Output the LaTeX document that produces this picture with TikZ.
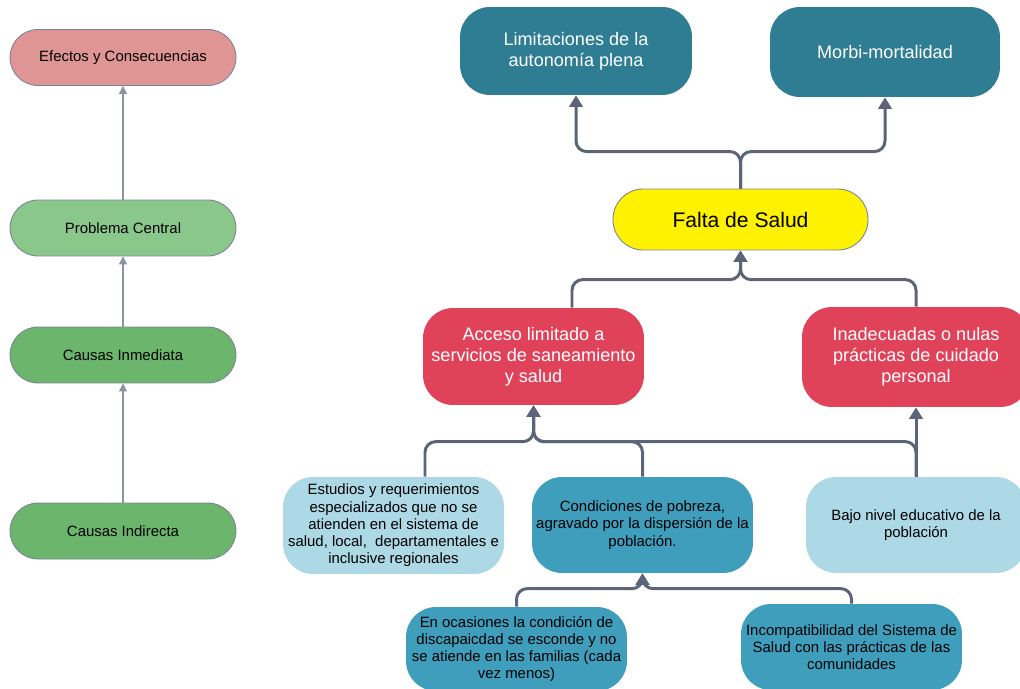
\documentclass[tikz,border=0pt]{standalone}
\usepackage{fontspec}
\setmainfont{Liberation Sans}
\usetikzlibrary{arrows.meta, positioning}

\definecolor{efecto}{HTML}{E09595}
\definecolor{central}{HTML}{89C78B}
\definecolor{causa}{HTML}{6BB56D}
\definecolor{petroleo}{HTML}{2F7D93}
\definecolor{carmin}{HTML}{E0425A}
\definecolor{celeste}{HTML}{ADD8E6}
\definecolor{azul}{HTML}{3E9EBC}
\definecolor{linea}{HTML}{5B6478}

\begin{document}
\begin{tikzpicture}[x=0.02cm, y=-0.02cm,
        pill/.style={draw=linea!80, line width=0.5pt, rounded corners=0.56cm,
            minimum width=4.52cm, minimum height=1.12cm, font=\fontsize{8.5}{10}\selectfont},
        caja/.style={rounded corners=0.6cm, align=center, inner sep=2pt},
        grande/.style={caja, text=white, font=\fontsize{10.3}{11.9}\selectfont},
        chica/.style={caja, minimum width=4.42cm, font=\fontsize{8.5}{9.8}\selectfont},
        conn/.style={draw=linea, line width=1.7pt, rounded corners=6pt,
            -{Triangle[width=7.5pt,length=6.5pt]}},
        guia/.style={draw=linea!70, line width=0.6pt, -{Triangle[width=4.5pt,length=4.5pt]}}]

        \useasboundingbox (0,0) rectangle (1020,689);

        % Left column (legend)
        \foreach \n/\yy/\c/\t in {efe/57.5/efecto/Efectos y Consecuencias,
                pro/228/central/Problema Central,
                inm/355/causa/Causas Inmediata,
                ind/531/causa/Causas Indirecta} {
            \node[pill, fill=\c] (\n) at (123,\yy) {\t};
        }
        \draw[guia] (ind.north) -- (inm.south);
        \draw[guia] (inm.north) -- (pro.south);
        \draw[guia] (pro.north) -- (efe.south);

        % Effects
        \node[grande, fill=petroleo, minimum width=4.64cm, minimum height=1.76cm] (limit) at (576,51)
            {Limitaciones de la\\autonomía plena};
        \node[grande, fill=petroleo, minimum width=4.6cm, minimum height=1.8cm] (morbi) at (885,52)
            {Morbi-mortalidad};

        % Central problem
        \node[draw=linea!80, line width=0.5pt, fill=yellow, rounded corners=0.6cm,
            minimum width=5.1cm, minimum height=1.22cm, font=\fontsize{12}{14}\selectfont] (falta) at (740.5,219.5)
            {Falta de Salud};

        % Immediate causes
        \node[grande, fill=carmin, minimum width=4.42cm, minimum height=1.94cm] (acceso) at (533.5,356.5)
            {Acceso limitado a\\servicios de saneamiento\\y salud};
        \node[grande, fill=carmin, minimum width=4.56cm, minimum height=2cm] (inad) at (916,357)
            {Inadecuadas o nulas\\prácticas de cuidado\\personal};

        % Indirect causes
        \node[chica, fill=celeste, minimum height=1.94cm] (estudios) at (393.5,525.5)
            {Estudios y requerimientos\\especializados que no se\\atienden en el sistema de\\salud, local,\ \ departamentales e\\inclusive regionales};
        \node[chica, fill=azul, minimum height=1.92cm] (cond) at (642.5,525)
            {Condiciones de pobreza,\\agravado por la dispersión de la\\población.};
        \node[chica, fill=celeste, minimum width=4.4cm, minimum height=1.92cm] (bajo) at (916,525)
            {Bajo nivel educativo de la\\población};
        \node[chica, fill=azul, minimum height=1.68cm] (ocas) at (516.5,649)
            {En ocasiones la condición de\\discapaicdad se esconde y no\\se atiende en las familias (cada\\vez menos)};
        \node[chica, fill=azul, minimum height=1.72cm] (incomp) at (851.5,647)
            {Incompatibilidad del Sistema de\\Salud con las prácticas de las\\comunidades};

        % Connectors
        \draw[conn] (falta.north) -- ++(0,-37) -| (limit.south);
        \draw[conn] (falta.north) -- ++(0,-37) -| (morbi.south);
        \draw[conn] ([xshift=0.77cm]acceso.north) -- ++(0,-28) -| (falta.south);
        \draw[conn] (inad.north) -- ++(0,-27) -| (falta.south);
        \draw[conn] ([xshift=0.63cm]estudios.north) -- ++(0,-35) -| (acceso.south);
        \draw[conn] (cond.north) -- ++(0,-35) -| (acceso.south);
        \draw[conn] (bajo.north) -- ++(0,-35) -| (acceso.south);
        \draw[conn] (bajo.north) -- (inad.south);
        \draw[conn] (ocas.north) -- ++(0,-18) -| (cond.south);
        \draw[conn] (incomp.north) -- ++(0,-15) -| (cond.south);
    \end{tikzpicture}
\end{document}
